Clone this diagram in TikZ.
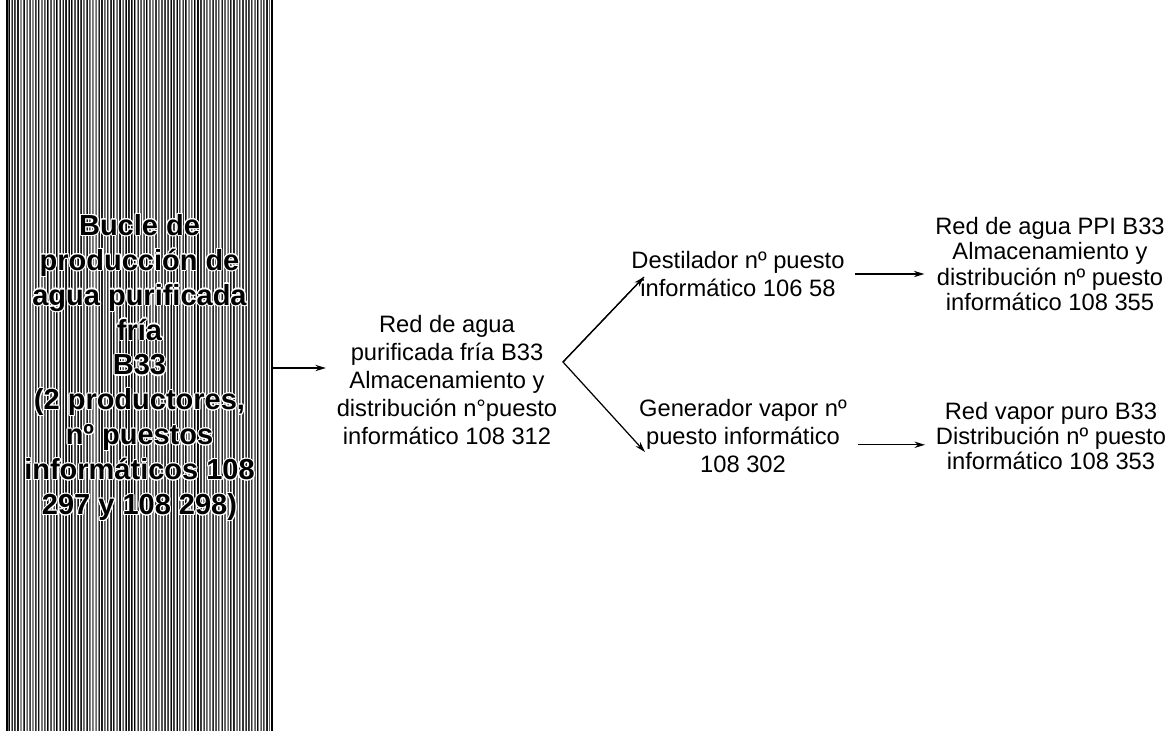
\documentclass[tikz,border=0pt]{standalone}
\usepackage{fontspec}
\setmainfont{Liberation Sans}
\usepackage{contour}
\contourlength{0.6pt}
\usetikzlibrary{arrows.meta}
\newcommand{\halo}[1]{\contour{white}{#1}}

\begin{document}
\begin{tikzpicture}[x=0.02cm,y=-0.02cm,>={Stealth[length=6pt,width=3.6pt]},
  txt/.style={align=center,inner sep=6pt,font=\fontsize{13.5}{15.9}\selectfont},
  rtxt/.style={txt,font=\fontsize{13.5}{14.4}\selectfont},
  loopbox/.style={minimum width=5.3cm,minimum height=14.8cm,inner sep=0pt,align=center,
    font=\bfseries\fontsize{16.5}{19.9}\selectfont},
  flow/.style={->,line width=0.7pt}]
\useasboundingbox (0,0) rectangle (1171,731);
% striped production loop
\begin{scope}
\pgfmathsetseed{42}
\foreach \i in {0,...,174}{
  \pgfmathsetmacro\lw{0.1+0.45*rnd}
  \pgfmathsetmacro\gr{35+65*rnd}
  \draw[line width=\lw pt,black!\gr] (8+1.5*\i,-5) -- (8+1.5*\i,736);
}
\draw[line width=0.8pt] (7,-5) -- (7,736);
\draw[line width=1.3pt] (272,-5) -- (272,736);
\end{scope}
\node[loopbox] (loop) at (139.5,368) {\halo{Bucle de}\\\halo{producción de}\\\halo{agua purificada}\\\halo{fría}\\\halo{B33}\\\halo{(2 productores,}\\\halo{nº puestos}\\\halo{informáticos 108}\\\halo{297 y 108 298)}};
% network nodes
\node[txt] (mid) at (447,380) {Red de agua\\purificada fría B33\\Almacenamiento y\\distribución n°puesto\\informático 108 312};
\node[txt] (dest) at (738,274) {Destilador nº puesto\\informático 106 58};
\node[txt] (gen) at (743,436) {Generador vapor nº\\puesto informático\\108 302};
\node[rtxt] (ppi) at (1050,264) {Red de agua PPI B33\\Almacenamiento y\\distribución nº puesto\\informático 108 355};
\node[rtxt] (steam) at (1051,436) {Red vapor puro B33\\Distribución nº puesto\\informático 108 353};
\coordinate (fork) at (563,362);
\coordinate (destin) at (644,277);
\coordinate (genin) at (645,452);
% connectors
\draw[flow] (loop.east) -- (loop.east -| mid.west);
\draw[flow] (destin) -- (fork) -- (genin);
\draw[flow] (fork) -- (destin);
\draw[flow] (dest.east) -- (dest.east -| ppi.west);
\draw[flow] ([yshift=-5pt]gen.east) -- ([yshift=-5pt]gen.east -| steam.west);
\end{tikzpicture}
\end{document}
